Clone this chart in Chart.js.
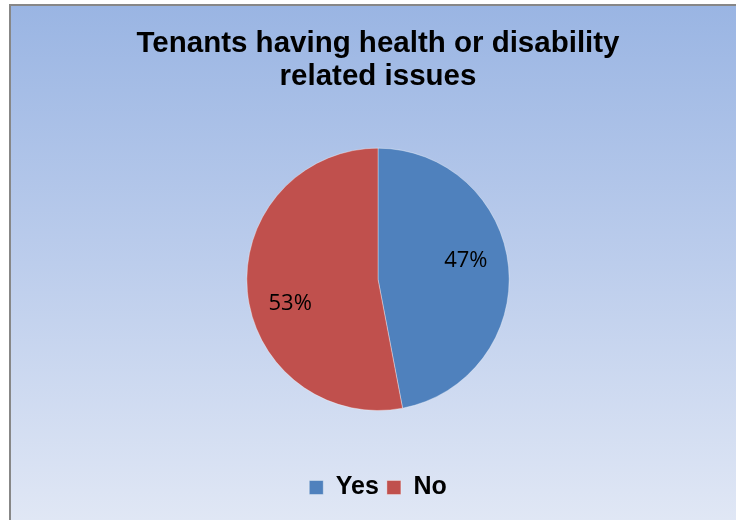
<!DOCTYPE html>
<html>
<head>
<meta charset="utf-8">
<script src="https://cdn.jsdelivr.net/npm/chart.js@4"></script>
<style>
  html, body { margin: 0; padding: 0; background: #ffffff; }
  canvas { display: block; }
</style>
</head>
<body>
<canvas id="c" width="736" height="520"></canvas>
<script>
const titleLines = ['Tenants having health or disability', 'related issues'];
const categories = ['Yes', 'No'];
const values = [47, 53];
const colors = ['#4F81BD', '#C0504D'];

const backgroundPlugin = {
  id: 'bgBox',
  beforeDraw(chart) {
    const ctx = chart.ctx;
    const W = chart.width, H = chart.height;
    ctx.save();
    ctx.fillStyle = '#ffffff';
    ctx.fillRect(0, 0, W, H);
    ctx.fillStyle = '#878787';
    ctx.fillRect(9, 4, W - 9, H - 4);
    const g = ctx.createLinearGradient(0, 6, 0, H);
    g.addColorStop(0, '#9AB5E3');
    g.addColorStop(0.5, '#BCCDEC');
    g.addColorStop(1, '#E0E7F5');
    ctx.fillStyle = g;
    ctx.fillRect(11, 6, W - 11, H - 6);
    ctx.restore();
  }
};

const pctLabelPlugin = {
  id: 'pctLabels',
  afterDatasetsDraw(chart) {
    const ctx = chart.ctx;
    const meta = chart.getDatasetMeta(0);
    const data = chart.data.datasets[0].data;
    const total = data.reduce((a, b) => a + b, 0);
    ctx.save();
    ctx.font = '22px "Open Sans", Lato, sans-serif';
    ctx.fillStyle = '#000000';
    ctx.textAlign = 'center';
    ctx.textBaseline = 'middle';
    meta.data.forEach((arc, i) => {
      const p = arc.getProps(['x', 'y', 'startAngle', 'endAngle', 'outerRadius'], true);
      const mid = (p.startAngle + p.endAngle) / 2 - 8.5 * Math.PI / 180;
      const r = p.outerRadius * 0.69;
      const tx = p.x + Math.cos(mid) * r;
      const ty = p.y + Math.sin(mid) * r + 3;
      ctx.fillText(Math.round(data[i] / total * 100) + '%', tx, ty);
    });
    ctx.restore();
  }
};

new Chart(document.getElementById('c'), {
  type: 'pie',
  data: {
    labels: categories,
    datasets: [{
      data: values,
      backgroundColor: colors,
      borderColor: 'rgba(255,255,255,0.35)',
      borderWidth: 1
    }]
  },
  options: {
    responsive: false,
    animation: false,
    events: [],
    layout: { padding: { left: 20, right: 0, top: 0, bottom: 10 } },
    plugins: {
      title: {
        display: true,
        text: titleLines,
        color: '#000000',
        font: { family: '"Liberation Sans", Arial, sans-serif', size: 29.5, weight: 'bold', lineHeight: 1.13 },
        padding: { top: 27, bottom: 54 }
      },
      subtitle: {
        display: true,
        position: 'bottom',
        weight: 500,
        text: '',
        font: { size: 1, lineHeight: 1 },
        padding: { top: 0, bottom: 55 }
      },
      legend: {
        display: true,
        position: 'bottom',
        labels: {
          color: '#000000',
          font: { family: '"Liberation Sans", Arial, sans-serif', size: 25, weight: 'bold' },
          boxWidth: 14,
          boxHeight: 14,
          padding: 8
        }
      },
      tooltip: { enabled: false }
    }
  },
  plugins: [backgroundPlugin, pctLabelPlugin]
});
</script>
</body>
</html>
